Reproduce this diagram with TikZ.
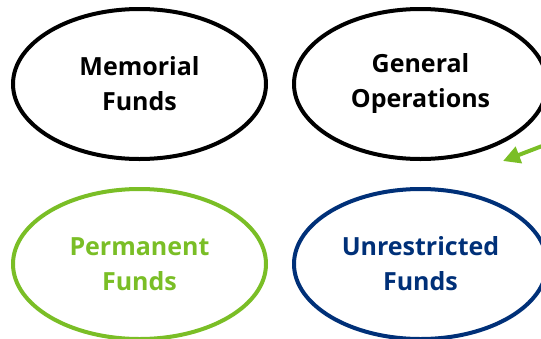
\documentclass[tikz,border=0pt]{standalone}
\usepackage{fontspec}
\usepackage{tikz}
\usetikzlibrary{shapes.geometric,arrows.meta,positioning}

\newfontfamily\fundfont{Open Sans}
\definecolor{fundgreen}{RGB}{122,190,38}
\definecolor{fundblue}{RGB}{0,48,120}

\tikzset{
  fund/.style={ellipse, draw, line width=4pt, minimum width=253pt,
    minimum height=150pt, inner sep=0pt, align=center,
    font=\fundfont\bfseries\fontsize{25}{35}\selectfont},
}

\begin{document}
\begin{tikzpicture}[x=1pt,y=-1pt]
\clip (0,0) rectangle (541,338);
\node[fund] (memorial) at (139.5,84) {Memorial\\Funds};
\node[fund] (general) at (420.5,84) {General\\Operations};
\node[fund, draw=fundgreen, text=fundgreen] (permanent) at (139.5,264) {Permanent\\Funds};
\node[fund, draw=fundblue, text=fundblue] (unrestricted) at (420.5,264) {Unrestricted\\Funds};
% green arrow coming in from the right
\coordinate (arrowstart) at (550,143);
\coordinate (arrowtip) at (503,161);
\draw[fundgreen, line width=4pt, -{Triangle[length=17pt,width=17pt]}] (arrowstart) -- (arrowtip);
\end{tikzpicture}
\end{document}
